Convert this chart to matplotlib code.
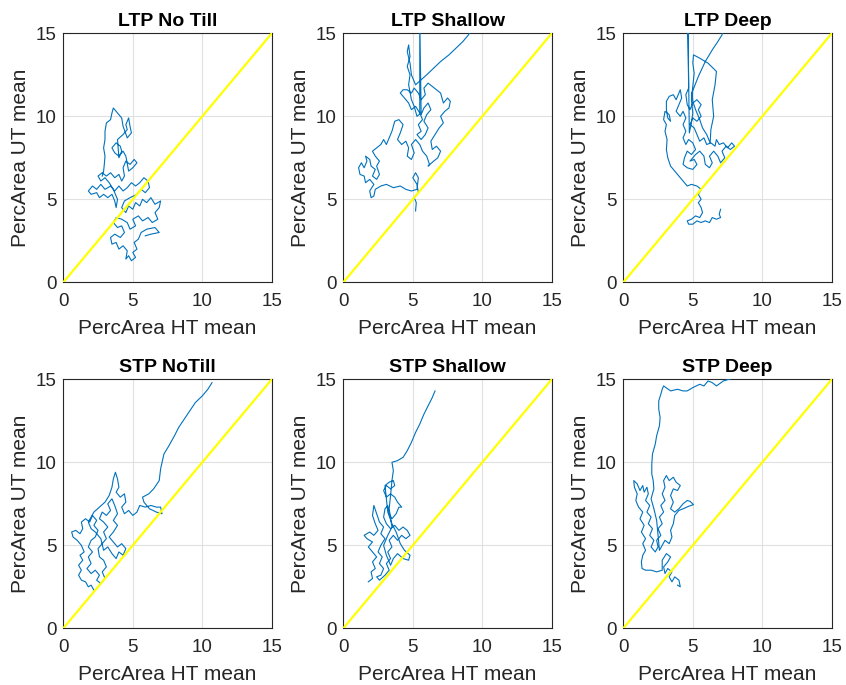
import matplotlib
matplotlib.use("Agg")
import matplotlib.pyplot as plt

plt.rcParams['font.family'] = ['Liberation Sans', 'DejaVu Sans']

titles = ["LTP No Till", "LTP Shallow", "LTP Deep",
          "STP NoTill", "STP Shallow", "STP Deep"]
xlabel = "PercArea HT mean"
ylabel = "PercArea UT mean"
ticks = [0, 5, 10, 15]

# LTP No Till
ltp_notill_x = [5.9, 6.3, 6.9, 6.6, 6.0, 5.6, 5.4, 5.1, 5.3, 5.0, 5.2, 4.9, 4.7, 4.5, 4.6, 4.3,
                4.0, 3.8, 3.5, 3.4, 3.7, 4.1, 4.4, 4.2, 3.9, 3.6, 3.8, 4.2, 4.6, 4.8, 5.2, 5.0,
                5.4, 5.7, 6.1, 6.4, 6.8, 6.6, 6.9, 7.0, 6.6, 6.3, 6.0, 5.7, 5.5, 5.2, 5.0, 4.7,
                4.5, 4.2, 4.4, 4.8, 5.3, 5.6, 5.9, 6.2, 6.1, 5.8, 5.5, 5.2, 4.9, 4.6, 4.3, 4.0,
                3.7, 3.4, 3.0, 2.7, 2.4, 2.1, 1.8, 2.0, 2.4, 2.6, 2.9, 3.2, 3.5, 3.7, 3.8, 3.9,
                3.6, 3.3, 3.0, 2.7, 2.5, 2.8, 3.1, 3.4, 3.7, 4.0, 4.2, 4.4, 4.3, 4.5, 4.8, 5.1,
                5.3, 5.0, 4.7, 4.5, 4.3, 4.0, 3.7, 3.5, 3.8, 4.1, 4.2, 4.0, 3.9, 4.3, 4.6, 4.5,
                4.7, 4.8, 4.9, 4.6, 4.3, 4.2, 4.0, 3.8, 3.6, 3.5, 3.4, 3.1, 3.0, 3.0, 2.9, 3.0,
                2.95, 2.9, 2.8]
ltp_notill_y = [2.8, 2.9, 3.0, 3.3, 3.2, 3.0, 2.6, 2.4, 2.0, 1.8, 1.5, 1.3, 1.6, 1.4, 1.9, 2.2,
                2.0, 2.4, 2.3, 2.7, 2.9, 2.7, 3.0, 3.4, 3.3, 3.6, 3.9, 3.8, 3.6, 3.2, 3.4, 3.8,
                4.0, 3.7, 3.9, 3.6, 3.8, 4.2, 4.5, 4.9, 4.7, 5.1, 4.8, 5.0, 4.6, 4.8, 4.4, 4.6,
                4.2, 4.5, 4.9, 5.1, 5.3, 5.6, 5.4, 5.7, 6.1, 6.3, 6.0, 5.8, 6.0, 5.7, 5.5, 5.8,
                5.5, 5.8, 5.6, 5.9, 5.6, 5.8, 5.5, 5.3, 5.4, 5.1, 5.3, 5.1, 5.3, 4.9, 4.5, 5.0,
                5.6, 6.0, 6.3, 6.1, 6.4, 6.6, 6.4, 6.6, 6.3, 6.5, 6.1, 6.4, 6.9, 7.3, 7.1, 7.4,
                7.2, 6.9, 6.7, 7.6, 7.9, 7.6, 7.8, 8.1, 8.4, 8.2, 7.9, 7.5, 8.6, 8.9, 9.2, 9.5,
                9.9, 9.4, 9.0, 8.7, 9.4, 9.9, 10.1, 10.3, 10.5, 10.2, 9.8, 9.6, 9.1, 8.6, 8.1, 7.6,
                7.1, 6.7, 6.4]

# LTP Shallow
ltp_shallow_x = [5.2, 5.25, 5.1, 5.4, 5.3, 5.0, 5.2, 5.4, 5.3, 4.9, 4.5, 4.1, 3.6, 3.1, 2.7, 2.3,
                 2.2, 2.0, 1.9, 2.2, 1.9, 1.6, 1.5, 1.2, 1.1, 1.3, 1.5, 1.7, 1.6, 1.9, 2.0, 2.3,
                 2.1, 2.4, 2.6, 2.4, 2.6, 2.3, 2.1, 2.4, 2.7, 2.9, 3.1, 3.3, 3.5, 3.7, 4.0, 4.3,
                 4.1, 3.9, 4.2, 4.5, 4.7, 4.6, 4.9, 5.1, 4.9, 5.2, 5.5, 5.7, 6.0, 6.2, 6.1, 6.5,
                 6.8, 7.0, 6.7, 6.4, 6.3, 6.6, 6.9, 7.2, 7.0, 7.3, 7.6, 7.7, 7.5, 7.2, 7.0, 6.7,
                 6.4, 6.1, 5.8, 5.9, 5.6, 5.4, 5.1, 4.9, 4.6, 4.3, 4.1, 4.4, 4.7, 4.9, 5.2, 5.5,
                 5.7, 5.4, 5.6, 5.3, 5.6, 5.9, 6.1, 5.8, 6.0, 6.3, 6.1, 5.8, 5.6, 5.5, 5.5, 5.6,
                 5.3, 5.1, 4.9, 4.7, 4.8, 4.6, 4.8, 4.7, 4.6, 4.8, 4.9, 5.2, 5.6, 6.0, 6.5, 7.0,
                 7.6, 8.1, 8.6, 9.0, 9.3]
ltp_shallow_y = [4.3, 4.8, 5.1, 5.4, 5.9, 6.3, 6.6, 6.3, 5.6, 5.5, 5.6, 5.8, 5.7, 5.9, 5.8, 5.6,
                 5.2, 5.1, 5.5, 5.9, 6.2, 6.0, 6.4, 6.5, 6.9, 7.2, 6.9, 7.3, 7.6, 7.4, 7.0, 6.8,
                 6.4, 6.2, 6.5, 7.0, 7.3, 7.6, 7.9, 8.1, 8.3, 8.6, 8.3, 8.7, 9.1, 9.7, 9.8, 9.5,
                 9.0, 8.6, 8.3, 8.5, 8.1, 7.6, 7.4, 7.8, 8.3, 8.6, 8.3, 7.9, 7.6, 7.1, 7.0, 7.3,
                 7.5, 7.9, 8.2, 8.0, 8.5, 8.9, 9.3, 9.6, 10.0, 10.3, 10.5, 10.9, 11.1, 10.8, 11.4, 11.6,
                 11.8, 12.0, 11.7, 11.3, 11.0, 11.4, 11.7, 11.4, 11.6, 11.6, 11.4, 11.1, 10.8, 10.4, 10.6, 10.2,
                 9.8, 9.5, 9.1, 8.9, 8.6, 8.9, 9.3, 9.7, 10.1, 10.4, 10.8, 10.5, 10.1, 10.3, 16.0, 10.2,
                 10.0, 10.6, 11.0, 11.9, 12.5, 13.0, 13.6, 14.3, 13.9, 13.2, 12.5, 11.9, 12.2, 12.5, 12.9, 13.3,
                 13.7, 14.1, 14.5, 14.9, 15.3]

# LTP Deep
ltp_deep_x = [7.0, 6.9, 7.0, 6.7, 6.4, 6.2, 5.9, 5.6, 5.3, 5.0, 4.7, 4.6, 4.9, 5.2, 5.5, 5.7,
              5.6, 5.4, 5.6, 5.4, 5.6, 5.3, 4.9, 4.6, 4.4, 4.2, 3.9, 3.6, 3.4, 3.2, 3.1, 3.15,
              3.0, 3.1, 2.9, 3.0, 3.3, 3.4, 3.2, 3.1, 3.1, 3.3, 3.6, 3.8, 4.1, 4.2, 4.0, 3.8,
              4.1, 4.3, 4.5, 4.3, 4.5, 4.3, 4.5, 4.7, 5.0, 5.2, 4.9, 4.6, 4.4, 4.3, 4.6, 5.0,
              5.3, 5.1, 4.8, 5.2, 5.5, 5.8, 5.9, 6.2, 6.4, 6.2, 6.5, 6.8, 7.0, 7.3, 7.1, 7.4,
              7.7, 8.0, 7.8, 7.5, 7.2, 6.9, 6.7, 6.6, 6.3, 6.0, 5.8, 5.5, 5.3, 5.1, 4.8, 5.0,
              5.3, 5.6, 5.4, 5.6, 5.3, 5.0, 4.8, 4.6, 4.5, 4.7, 4.65, 4.75, 4.9, 5.0, 4.9, 5.0,
              5.1, 5.0, 5.05, 5.5, 6.1, 6.7, 6.6, 6.4, 6.5, 6.3, 6.25, 6.0, 5.7, 5.5, 5.2, 5.0,
              4.93, 5.4, 5.9, 6.4, 6.8, 7.1, 7.2]
ltp_deep_y = [4.4, 4.1, 3.9, 3.8, 3.9, 3.6, 3.7, 3.6, 3.7, 3.5, 3.5, 3.7, 3.8, 4.0, 3.9, 4.2,
              4.5, 4.8, 5.0, 5.3, 5.6, 5.8, 5.9, 5.8, 6.0, 6.2, 6.5, 6.8, 7.0, 7.5, 8.0, 8.6,
              9.1, 9.5, 9.8, 10.3, 10.1, 9.7, 9.9, 10.4, 10.9, 11.2, 11.3, 11.0, 11.6, 11.1, 10.7, 10.3,
              10.0, 10.3, 9.9, 9.5, 9.1, 8.7, 8.3, 8.6, 8.4, 8.0, 7.7, 7.9, 7.5, 7.1, 6.9, 6.8,
              7.1, 7.4, 7.3, 7.7, 7.9, 7.6, 7.1, 6.9, 7.2, 7.6, 7.9, 7.6, 7.2, 7.5, 7.9, 8.2,
              8.0, 8.2, 8.4, 8.1, 8.4, 8.3, 8.6, 8.2, 8.4, 8.3, 8.7, 8.5, 8.9, 9.3, 9.5, 9.9,
              9.7, 10.0, 10.4, 10.7, 11.0, 10.8, 10.4, 10.7, 11.3, 11.7, 15.5, 9.0, 9.6, 10.2, 11.0, 11.8,
              12.6, 13.2, 13.7, 13.5, 13.2, 12.7, 11.9, 11.0, 10.0, 9.2, 8.4, 8.9, 9.3, 9.8, 10.4, 10.9,
              11.4, 12.4, 13.3, 14.0, 14.5, 14.9, 15.2]

# STP NoTill
stp_notill_x = [2.2, 2.0, 1.8, 1.6, 1.3, 1.1, 1.3, 1.1, 1.4, 1.2, 1.5, 1.3, 1.0, 0.7, 0.6, 0.9,
                1.2, 1.4, 1.3, 1.6, 1.9, 2.1, 2.4, 2.2, 2.5, 2.3, 2.0, 1.8, 2.1, 1.8, 2.0, 1.7,
                2.0, 2.3, 2.6, 2.4, 2.7, 3.0, 2.8, 3.1, 2.9, 2.6, 2.5, 2.8, 3.1, 2.9, 3.2, 2.9,
                2.6, 2.8, 3.1, 3.4, 3.2, 3.5, 3.7, 3.9, 3.6, 3.9, 3.6, 3.3, 3.6, 3.9, 4.2, 4.5,
                4.3, 4.0, 3.8, 3.5, 3.2, 2.9, 2.7, 2.3, 2.0, 1.8, 2.2, 2.6, 3.0, 3.3, 3.5, 3.6,
                3.75, 3.9, 4.0, 3.8, 4.1, 4.4, 4.5, 4.2, 4.4, 4.7, 5.0, 5.3, 5.5, 5.9, 6.3, 6.7,
                7.0, 7.1, 6.7, 6.2, 5.8, 5.7, 6.15, 6.5, 6.9, 7.0, 7.24, 7.6, 8.0, 8.3, 8.7, 9.1,
                9.5, 10.0, 10.4, 10.7]
stp_notill_y = [2.3, 2.6, 2.5, 2.8, 2.9, 3.2, 3.5, 3.8, 4.1, 4.4, 4.6, 5.0, 5.3, 5.5, 5.8, 5.9,
                5.7, 6.0, 6.4, 6.6, 6.4, 6.8, 6.5, 6.2, 5.9, 5.5, 5.3, 4.9, 4.6, 4.3, 3.9, 3.6,
                3.3, 3.5, 3.2, 2.9, 2.7, 3.0, 3.4, 3.7, 4.1, 4.3, 4.8, 5.1, 5.4, 5.8, 6.1, 6.4,
                6.6, 7.0, 6.8, 7.1, 7.5, 7.8, 7.4, 6.9, 6.5, 6.2, 5.8, 5.5, 5.2, 4.9, 5.1, 4.8,
                4.4, 4.6, 4.2, 4.5, 4.9, 4.7, 5.4, 5.8, 6.0, 6.4, 7.0, 7.3, 7.6, 8.0, 8.5, 9.0,
                9.4, 9.0, 8.5, 8.2, 7.9, 8.1, 7.6, 7.3, 6.9, 7.1, 6.8, 7.0, 7.4, 7.3, 7.4, 7.3,
                7.3, 6.9, 7.0, 7.2, 7.6, 7.9, 8.1, 8.4, 8.9, 9.6, 10.5, 11.0, 11.6, 12.1, 12.6, 13.1,
                13.6, 14.0, 14.4, 14.8]

# STP Shallow
stp_shallow_x = [1.8, 2.1, 2.0, 2.3, 2.1, 2.4, 2.1, 1.8, 2.1, 1.7, 1.5, 1.9, 2.2, 2.5, 2.3, 2.1,
                 2.2, 2.4, 2.6, 2.9, 2.7, 3.0, 2.7, 2.5, 2.8, 2.6, 2.9, 2.7, 2.4, 2.6, 3.0, 3.3,
                 3.1, 3.4, 3.2, 3.5, 3.3, 3.6, 3.9, 4.2, 4.5, 4.8, 4.6, 4.3, 4.0, 3.7, 3.4, 3.1,
                 2.9, 3.0, 3.2, 3.3, 3.5, 3.8, 4.0, 4.2, 3.9, 3.7, 3.4, 3.1, 2.9, 3.1, 3.4, 3.7,
                 3.6, 3.3, 3.0, 3.2, 3.5, 3.8, 4.1, 4.4, 4.8, 4.7, 4.3, 3.9, 3.6, 3.4, 3.1, 2.9,
                 3.2, 3.5, 3.3, 3.4, 3.5, 3.6, 3.5, 3.9, 4.3, 4.6, 4.9, 5.2, 5.5, 5.8, 6.1, 6.4,
                 6.6]
stp_shallow_y = [2.8, 3.0, 3.4, 3.6, 4.0, 4.3, 4.6, 4.9, 5.2, 5.4, 5.6, 5.8, 5.6, 5.9, 6.3, 6.8,
                 7.4, 6.9, 6.4, 6.1, 5.7, 5.4, 5.0, 4.6, 4.3, 3.9, 3.6, 3.2, 3.1, 2.9, 3.2, 3.5,
                 3.9, 4.2, 4.6, 4.9, 5.3, 5.6, 5.3, 5.6, 5.4, 5.6, 5.9, 6.1, 5.9, 6.2, 6.0, 6.3,
                 6.7, 7.2, 7.4, 6.9, 6.6, 6.9, 7.3, 7.3, 7.6, 7.9, 8.1, 7.9, 8.3, 8.6, 8.4, 8.6,
                 8.9, 8.8, 8.6, 7.0, 6.3, 5.8, 5.1, 4.7, 4.4, 4.1, 4.2, 4.5, 4.2, 3.8, 4.4, 5.0,
                 5.6, 6.1, 7.2, 8.0, 8.9, 9.5, 10.0, 10.1, 10.3, 10.7, 11.2, 11.8, 12.3, 12.9, 13.4, 13.9,
                 14.3]

# STP Deep
stp_deep_x = [3.9, 4.1, 4.0, 3.7, 3.5, 3.3, 3.5, 3.2, 3.0, 2.9, 3.2, 3.4, 3.1, 2.8, 2.8, 2.4,
              2.0, 1.6, 1.35, 1.3, 1.4, 1.6, 1.4, 1.6, 1.3, 1.5, 1.2, 1.4, 1.1, 0.9, 1.0, 0.8,
              0.75, 1.0, 1.2, 1.4, 1.5, 1.7, 1.8, 1.6, 1.9, 1.7, 2.0, 1.8, 2.1, 1.9, 2.2, 2.0,
              2.3, 2.5, 2.4, 2.7, 2.5, 2.8, 2.6, 2.9, 2.7, 3.0, 2.8, 3.0, 2.9, 3.1, 3.3, 3.6,
              3.8, 4.1, 3.9, 3.6, 3.4, 3.6, 3.4, 3.7, 4.0, 4.3, 4.6, 4.8, 5.05, 4.7, 4.3, 4.0,
              3.7, 3.6, 3.4, 3.5, 3.3, 3.0, 2.8, 2.6, 2.4, 2.2, 2.0, 2.2, 2.15, 2.05, 2.05, 2.1,
              2.3, 2.4, 2.6, 2.65, 2.55, 2.55, 2.7, 2.8, 2.9, 3.4, 3.9, 4.3, 4.6, 5.0, 5.5, 5.8,
              6.1, 6.4, 6.7, 7.2, 7.6, 8.0]
stp_deep_y = [2.6, 2.5, 2.9, 3.1, 2.8, 3.1, 3.4, 3.6, 3.3, 3.7, 4.0, 4.3, 4.5, 4.1, 3.5, 3.4,
              3.5, 3.5, 3.6, 4.0, 4.4, 4.7, 5.1, 5.4, 5.8, 6.2, 6.6, 7.0, 7.3, 7.7, 8.1, 8.5,
              8.9, 8.7, 8.3, 8.6, 8.2, 8.5, 8.1, 7.7, 7.4, 7.0, 6.7, 6.3, 6.0, 5.6, 5.3, 4.9,
              4.6, 4.9, 5.3, 5.6, 6.0, 6.3, 6.7, 7.0, 7.4, 7.7, 8.1, 8.5, 8.9, 9.2, 8.9, 9.1,
              8.8, 8.6, 8.3, 8.4, 8.0, 7.6, 7.2, 7.0, 7.2, 7.5, 7.7, 7.65, 7.45, 7.35, 7.2, 7.1,
              6.8, 6.3, 5.9, 5.5, 5.1, 5.3, 5.0, 4.7, 6.5, 7.2, 7.8, 8.4, 8.9, 9.3, 9.9, 10.5,
              11.1, 11.6, 12.2, 12.7, 13.2, 13.7, 14.1, 14.4, 14.6, 14.3, 14.4, 14.3, 14.3, 14.5, 14.7, 14.6,
              14.9, 14.8, 14.6, 14.9, 15.0, 15.1]

series = [
    (ltp_notill_x, ltp_notill_y),
    (ltp_shallow_x, ltp_shallow_y),
    (ltp_deep_x, ltp_deep_y),
    (stp_notill_x, stp_notill_y),
    (stp_shallow_x, stp_shallow_y),
    (stp_deep_x, stp_deep_y),
]

fig = plt.figure(figsize=(8.46, 6.85), dpi=100)
W, H = 846.0, 685.0
lefts = [63.3, 343.3, 623.3]
tops = [33.3, 379.3]
aw, ah = 208.5, 249.0

ax_color = "#262626"
for i, (xs, ys) in enumerate(series):
    r, c = divmod(i, 3)
    ax = fig.add_axes([lefts[c] / W, 1 - (tops[r] + ah) / H, aw / W, ah / H])
    ax.plot(xs, ys, color="#0072BD", lw=0.8, zorder=3)
    ax.plot([0, 15], [0, 15], color="#FFFF00", lw=1.6, zorder=4)
    ax.set_xlim(0, 15)
    ax.set_ylim(0, 15)
    ax.set_xticks(ticks)
    ax.set_yticks(ticks)
    ax.grid(True, color="#e0e0e0", lw=0.8, zorder=0)
    ax.set_axisbelow(True)
    ax.tick_params(axis="x", length=0, labelsize=13.5, colors=ax_color, pad=8)
    ax.tick_params(axis="y", length=0, labelsize=13.5, colors=ax_color, pad=5)
    for s in ax.spines.values():
        s.set_color(ax_color)
        s.set_linewidth(0.8)
    ax.set_xlabel(xlabel, fontsize=15, color=ax_color, labelpad=6)
    ax.set_ylabel(ylabel, fontsize=15, color=ax_color, labelpad=4)
    ax.set_title(titles[i], fontsize=14, fontweight="bold", color="black", pad=5.5)

fig.savefig("out.png", dpi=100, facecolor="white")
